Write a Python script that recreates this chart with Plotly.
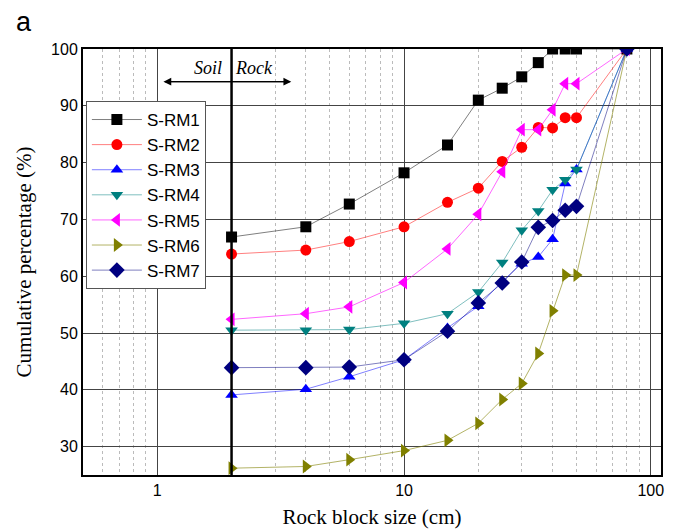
import plotly.graph_objects as go

sizes = [2, 4, 6, 10, 15, 20, 25, 30, 35, 40, 45, 50, 80]
s_rm1 = [66.9, 68.7, 72.7, 78.2, 83.1, 91.0, 93.1, 95.1, 97.6, 100, 100, 100, 100]
s_rm2 = [63.9, 64.6, 66.1, 68.7, 73.0, 75.5, 80.2, 82.7, 86.2, 86.1, 87.9, 87.9, 100]
s_rm3 = [39.1, 40.1, 42.3, 45.3, 50.9, 54.7, 59.1, 62.2, 63.4, 66.5, 76.3, 78.8, 100]
s_rm4 = [50.5, 50.5, 50.6, 51.7, 53.4, 57.2, 62.4, 68.1, 71.5, 75.2, 77.0, 78.8, 100]
s_rm5 = [52.4, 53.4, 54.6, 58.9, 64.8, 70.9, 78.4, 85.8, 85.8, 89.3, 93.9, 93.9, 100]
s_rm6 = [26.2, 26.5, 27.7, 29.3, 31.1, 34.1, 38.3, 41.1, 46.4, 53.9, 60.2, 60.2, 100]
s_rm7 = [43.9, 43.9, 44.0, 45.3, 50.3, 55.3, 58.8, 62.5, 68.6, 69.8, 71.6, 72.3, 100]

names = ["S-RM1", "S-RM2", "S-RM3", "S-RM4", "S-RM5", "S-RM6", "S-RM7"]
series = [s_rm1, s_rm2, s_rm3, s_rm4, s_rm5, s_rm6, s_rm7]
marker_colors = ["#000000", "#ff0000", "#0000ff", "#008080", "#ff00ff", "#808000", "#000080"]
line_colors = ["rgba(0,0,0,0.5)", "rgba(255,0,0,0.5)", "rgba(0,0,255,0.5)", "rgba(0,128,128,0.5)",
               "rgba(255,0,255,0.6)", "rgba(128,128,0,0.6)", "rgba(0,0,128,0.5)"]
symbols = ["square", "circle", "triangle-up", "triangle-down", "triangle-left", "triangle-right", "diamond"]
msizes = [11, 11, 11, 11, 12, 12, 12]

threshold = 2
y_ticks = [30, 40, 50, 60, 70, 80, 90, 100]

fig = go.Figure()
for name, ys, mc, lc, sym, ms in zip(names, series, marker_colors, line_colors, symbols, msizes):
    fig.add_trace(go.Scatter(
        x=sizes, y=ys, name=name, mode="lines+markers",
        line=dict(color=lc, width=1),
        marker=dict(symbol=sym, size=ms, color=mc, line=dict(width=0)),
    ))

fig.add_shape(type="line", xref="x", yref="paper", x0=threshold, x1=threshold, y0=0, y1=1,
              line=dict(color="black", width=2.5))

# double arrow Soil/Rock
fig.add_annotation(x=0.025, y=94.25, ax=0.543, ay=94.25, xref="x", yref="y", axref="x", ayref="y",
                   text="", showarrow=True, arrowhead=2, arrowsize=1.3, arrowwidth=1.2, arrowcolor="black")
fig.add_annotation(x=0.543, y=94.25, ax=0.025, ay=94.25, xref="x", yref="y", axref="x", ayref="y",
                   text="", showarrow=True, arrowhead=2, arrowsize=1.3, arrowwidth=1.2, arrowcolor="black")
fig.add_annotation(x=0.301, y=96.6, xref="x", yref="y", text="<i>Soil</i>", showarrow=False,
                   xanchor="right", xshift=-8, font=dict(family="Liberation Serif", size=18, color="black"))
fig.add_annotation(x=0.301, y=96.6, xref="x", yref="y", text="<i>Rock</i>", showarrow=False,
                   xanchor="left", xshift=1, font=dict(family="Liberation Serif", size=18, color="black"))
fig.add_annotation(x=-0.117, y=1.1, xref="paper", yref="paper", text="a", showarrow=False,
                   xanchor="left", yanchor="top", borderpad=0,
                   font=dict(family="Liberation Sans", size=27, color="black"))

fig.update_layout(
    width=672, height=522,
    margin=dict(l=75, r=19, t=41, b=55),
    paper_bgcolor="white", plot_bgcolor="white",
    font=dict(family="Liberation Sans", size=16, color="black"),
    showlegend=True,
    legend=dict(x=0.005, y=0.878, xanchor="left", yanchor="top",
                bgcolor="white", bordercolor="#555555", borderwidth=1,
                font=dict(family="Liberation Sans", size=17, color="black"),
                itemwidth=50, tracegroupgap=0),
)
fig.update_xaxes(
    type="log", range=[-0.301, 2.0414], automargin=False,
    tickvals=[1, 10, 100], ticktext=["1", "10", "100"],
    showgrid=True, gridcolor="#444444", gridwidth=1,
    minor=dict(showgrid=True, gridcolor="#bbbbbb", griddash="dot", gridwidth=1,
               tickvals=[0.5, 0.6, 0.7, 0.8, 0.9, 2, 3, 4, 5, 6, 7, 8, 9, 20, 30, 40, 50, 60, 70, 80, 90]),
    showline=True, linecolor="black", linewidth=2, mirror=True,
    ticks="", zeroline=False,
    title=dict(text="Rock block size (cm)", font=dict(family="Liberation Serif", size=21), standoff=11),
)
fig.update_yaxes(
    range=[25, 100], tickvals=y_ticks, automargin=False,
    showgrid=True, gridcolor="#444444", gridwidth=1,
    showline=True, linecolor="black", linewidth=2, mirror=True,
    ticks="", zeroline=False,
    title=dict(text="Cumulative percentage (%)", font=dict(family="Liberation Serif", size=21), standoff=14),
)

fig.write_html("out.html")
